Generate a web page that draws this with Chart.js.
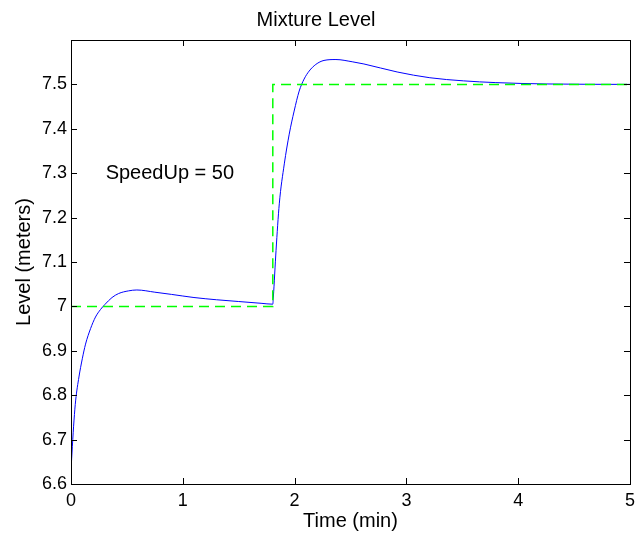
<!DOCTYPE html>
<html>
<head>
<meta charset="utf-8">
<script src="https://cdn.jsdelivr.net/npm/chart.js@4"></script>
<style>
  body { margin: 0; background: #fff; }
  #wrap { width: 641px; height: 540px; }
</style>
</head>
<body>
<div id="wrap"><canvas id="myChart" width="641" height="540"></canvas></div>
<script>
// measured level (blue)
const timeMin = [0, 0.012, 0.027, 0.042, 0.071, 0.101, 0.13, 0.175, 0.219, 0.264, 0.302, 0.367, 0.426, 0.515, 0.589, 0.75, 0.9, 1.1, 1.3, 1.5, 1.7, 1.805,
                 1.81, 1.834, 1.863, 1.908, 1.952, 1.996, 2.041, 2.085, 2.13, 2.19, 2.263, 2.37, 2.515, 2.62, 2.917, 3.21, 3.51, 3.8, 4.25, 5];
const level = [6.63, 6.684, 6.744, 6.789, 6.841, 6.882, 6.915, 6.95, 6.976, 6.993, 7.004, 7.02, 7.029, 7.035, 7.037, 7.032, 7.027, 7.02, 7.015, 7.011, 7.007, 7.005,
               7.021, 7.126, 7.231, 7.321, 7.388, 7.44, 7.485, 7.512, 7.53, 7.545, 7.554, 7.556, 7.551, 7.546, 7.528, 7.515, 7.508, 7.504, 7.501, 7.5];

// setpoint (green dashed)
const refTime = [0, 1.805, 1.805, 5];
const refLevel = [7, 7, 7.5, 7.5];

const xTicks = [0, 1, 2, 3, 4, 5];
const yTicks = [6.6, 6.7, 6.8, 6.9, 7, 7.1, 7.2, 7.3, 7.4, 7.5, 7.6];

const noteText = 'SpeedUp = 50';
const noteAt = [0.31, 7.3];

const toPts = (xs, ys) => xs.map((x, i) => ({x: x, y: ys[i]}));

// matlab style box + inward ticks + text note
const boxPlugin = {
  id: 'box',
  afterDraw(chart) {
    const ctx = chart.ctx;
    const a = chart.chartArea;
    const xs = chart.scales.x, ys = chart.scales.y;
    ctx.save();
    ctx.strokeStyle = '#000';
    ctx.lineWidth = 1;
    ctx.beginPath();
    xTicks.forEach(v => {
      const px = Math.round(xs.getPixelForValue(v)) + 0.5;
      ctx.moveTo(px, a.bottom); ctx.lineTo(px, a.bottom - 6);
      ctx.moveTo(px, a.top); ctx.lineTo(px, a.top + 6);
    });
    yTicks.forEach(v => {
      const py = Math.round(ys.getPixelForValue(v)) + 0.5;
      ctx.moveTo(a.left, py); ctx.lineTo(a.left + 6, py);
      ctx.moveTo(a.right, py); ctx.lineTo(a.right - 6, py);
    });
    ctx.stroke();
    ctx.strokeRect(Math.round(a.left) + 0.5, Math.round(a.top) + 0.5,
                   Math.round(a.right - a.left), Math.round(a.bottom - a.top));
    ctx.fillStyle = '#000';
    ctx.font = '20px "Liberation Sans", Arial, sans-serif';
    ctx.textAlign = 'left';
    ctx.textBaseline = 'middle';
    ctx.fillText(noteText, xs.getPixelForValue(noteAt[0]), ys.getPixelForValue(noteAt[1]));
    ctx.restore();
  }
};

const data = {
  datasets: [{
    label: 'Setpoint',
    data: toPts(refTime, refLevel),
    borderColor: 'rgb(0,255,0)',
    borderWidth: 1.5,
    borderDash: [10, 6],
    pointRadius: 0,
    showLine: true,
    tension: 0
  },
  {
    label: 'Level',
    data: toPts(timeMin, level),
    borderColor: 'rgb(0,0,255)',
    borderWidth: 1,
    pointRadius: 0,
    showLine: true,
    cubicInterpolationMode: 'monotone'
  }]
};

const font = '"Liberation Sans", Arial, sans-serif';

const config = {
  type: 'scatter',
  data: data,
  options: {
    responsive: false,
    animation: false,
    layout: { padding: { left: 0, right: 9, top: 0, bottom: 0 } },
    plugins: {
      legend: { display: false },
      tooltip: { enabled: false },
      title: {
        display: true,
        text: 'Mixture Level',
        color: '#000',
        font: { family: font, size: 20, weight: 'normal' },
        padding: { top: 8, bottom: 8 }
      }
    },
    scales: {
      x: {
        type: 'linear',
        min: 0, max: 5,
        grid: { display: false, drawTicks: false },
        border: { display: false },
        afterBuildTicks: s => { s.ticks = xTicks.map(v => ({value: v})); },
        afterFit: s => { s.height = 56; },
        ticks: {
          color: '#000',
          padding: 6,
          maxRotation: 0,
          font: { family: font, size: 18 },
          callback: v => String(v)
        },
        title: {
          display: true,
          text: 'Time (min)',
          color: '#000',
          font: { family: font, size: 20 },
          padding: { top: 0, bottom: 7 }
        }
      },
      y: {
        min: 6.6, max: 7.6,
        grid: { display: false, drawTicks: false },
        border: { display: false },
        afterBuildTicks: s => { s.ticks = yTicks.map(v => ({value: v})); },
        afterFit: s => { s.width = 71; },
        ticks: {
          color: '#000',
          padding: 4,
          font: { family: font, size: 18 },
          callback: v => (Math.abs(v - 7.6) < 1e-6 ? '' : String(Number(v.toFixed(1))))
        },
        title: {
          display: true,
          text: 'Level (meters)',
          color: '#000',
          font: { family: font, size: 20 },
          padding: { top: 12, bottom: 0 }
        }
      }
    }
  },
  plugins: [boxPlugin]
};

const myChart = new Chart(document.getElementById('myChart'), config);
</script>
</body>
</html>
